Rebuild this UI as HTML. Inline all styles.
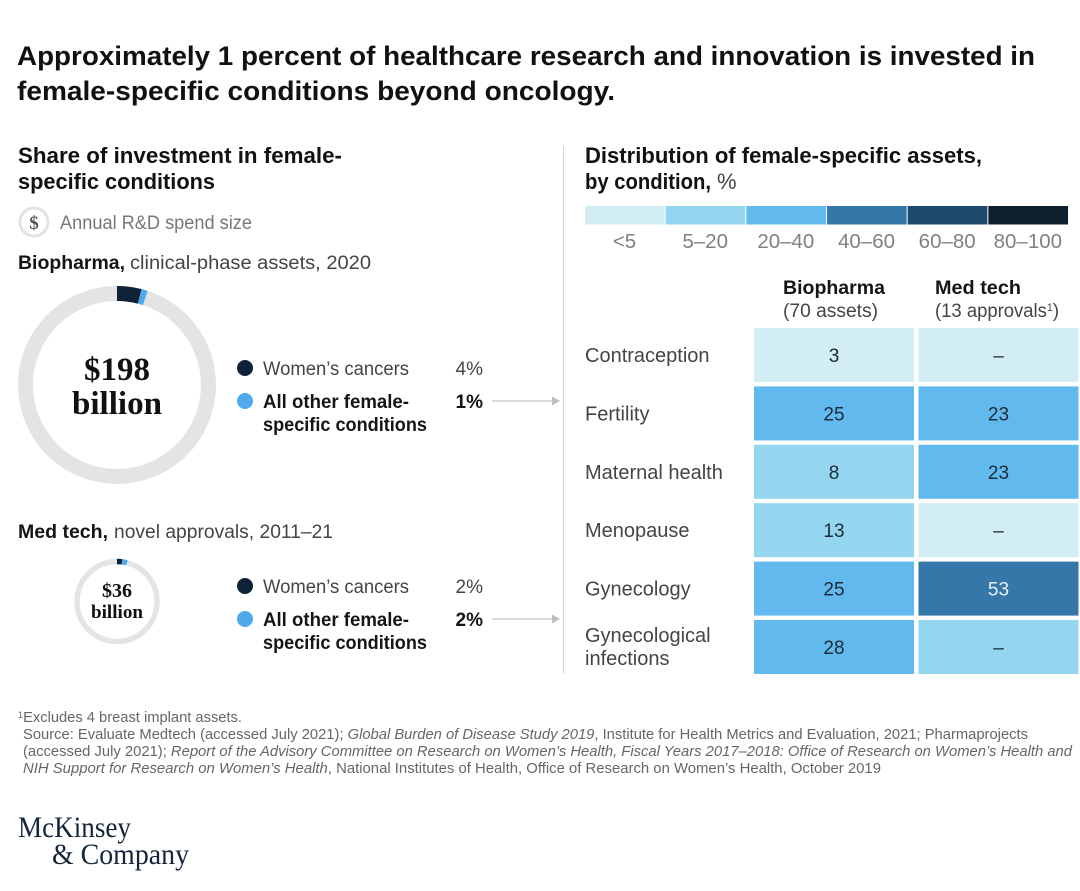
<!DOCTYPE html>
<html lang="en">
<head>
<meta charset="utf-8">
<title>Investment in female-specific conditions</title>
<style>
html,body{margin:0;padding:0;background:#fff;}
svg{display:block;font-family:"Liberation Sans",sans-serif;}
text{fill:#111;}
.h{font-weight:700;font-size:22px;}
.b{font-size:19px;fill:#444;}
.rl{font-size:20px;fill:#444;}
.sb{font-size:19px;font-weight:700;fill:#151515;}
.g{font-size:19px;fill:#777;}
.gs{font-size:20.500px;fill:#808080;}
.f{font-size:14.5px;fill:#666;}
.serif{font-family:"Liberation Serif",serif;}
</style>
</head>
<body>
<svg id="chart" width="1080" height="891" viewBox="0 0 1080 891" xmlns="http://www.w3.org/2000/svg">
<rect width="1080" height="891" fill="#fff"/>
<g>
<text x="17" y="65" font-size="27" font-weight="700" textLength="1018" lengthAdjust="spacingAndGlyphs">Approximately 1 percent of healthcare research and innovation is invested in</text>
<text x="17" y="100" font-size="27" font-weight="700" textLength="598" lengthAdjust="spacingAndGlyphs">female-specific conditions beyond oncology.</text>
</g>
<g>
<text class="h" x="18" y="163" textLength="324" lengthAdjust="spacingAndGlyphs">Share of investment in female-</text>
<text class="h" x="18" y="189" textLength="197" lengthAdjust="spacingAndGlyphs">specific conditions</text>
</g>
<g>
<circle cx="34" cy="222" r="14" fill="#fff" stroke="#e3e3e3" stroke-width="3"/>
<text x="34" y="229" text-anchor="middle" font-size="19" font-weight="700" class="serif" style="fill:#555">$</text>
<text class="g" x="60" y="229" textLength="192" lengthAdjust="spacingAndGlyphs">Annual R&amp;D spend size</text>
</g>
<g>
<text class="sb" x="18" y="269" textLength="107" lengthAdjust="spacingAndGlyphs">Biopharma,</text>
<text class="b" x="130" y="269" textLength="241" lengthAdjust="spacingAndGlyphs">clinical-phase assets, 2020</text>
</g>
<g id="donut-biopharma"></g>
<g>
<text class="serif" x="117" y="380" text-anchor="middle" font-size="33" font-weight="700">$198</text>
<text class="serif" x="72" y="414" font-size="33" font-weight="700" textLength="90" lengthAdjust="spacingAndGlyphs">billion</text>
</g>
<g>
<circle cx="245" cy="368" r="8" fill="#0e2337"/>
<text class="b" x="263" y="375" textLength="146" lengthAdjust="spacingAndGlyphs">Women’s cancers</text>
<text id="bio-cancer-share" class="b" x="483" y="375" text-anchor="end">4%</text>
<circle cx="245" cy="401" r="8" fill="#4faaed"/>
<text class="sb" x="263" y="408" textLength="146" lengthAdjust="spacingAndGlyphs">All other female-</text>
<text class="sb" x="263" y="431" textLength="164" lengthAdjust="spacingAndGlyphs">specific conditions</text>
<text id="bio-other-share" class="sb" x="483" y="408" text-anchor="end">1%</text>
</g>
<g>
<line x1="492" y1="401" x2="552" y2="401" stroke="#c4c4c4" stroke-width="1.3"/>
<polygon points="552,396.500 560,401 552,405.500" fill="#bdbdbd"/>
</g>
<g>
<text class="sb" x="18" y="538" textLength="90" lengthAdjust="spacingAndGlyphs">Med tech,</text>
<text class="b" x="114" y="538" textLength="219" lengthAdjust="spacingAndGlyphs">novel approvals, 2011–21</text>
</g>
<g id="donut-medtech"></g>
<g>
<text class="serif" x="117" y="597" text-anchor="middle" font-size="20" font-weight="700">$36</text>
<text class="serif" x="91" y="618" font-size="19" font-weight="700" textLength="52" lengthAdjust="spacingAndGlyphs">billion</text>
</g>
<g>
<circle cx="245" cy="586" r="8" fill="#0e2337"/>
<text class="b" x="263" y="593" textLength="146" lengthAdjust="spacingAndGlyphs">Women’s cancers</text>
<text id="med-cancer-share" class="b" x="483" y="593" text-anchor="end">2%</text>
<circle cx="245" cy="619" r="8" fill="#4faaed"/>
<text class="sb" x="263" y="626" textLength="146" lengthAdjust="spacingAndGlyphs">All other female-</text>
<text class="sb" x="263" y="649" textLength="164" lengthAdjust="spacingAndGlyphs">specific conditions</text>
<text id="med-other-share" class="sb" x="483" y="626" text-anchor="end">2%</text>
</g>
<g>
<line x1="492" y1="619" x2="552" y2="619" stroke="#c4c4c4" stroke-width="1.3"/>
<polygon points="552,614.500 560,619 552,623.500" fill="#bdbdbd"/>
</g>
<line x1="563.500" y1="146" x2="563.500" y2="674" stroke="#d4d4d4" stroke-width="1"/>
<g>
<text class="h" x="585" y="163" textLength="397" lengthAdjust="spacingAndGlyphs">Distribution of female-specific assets,</text>
<text class="h" x="585" y="189" textLength="126" lengthAdjust="spacingAndGlyphs">by condition,</text>
<text x="717" y="189" font-size="22" style="fill:#444">%</text>
</g>
<g id="color-scale"></g>
<g>
<text class="sb" x="783" y="294" textLength="102" lengthAdjust="spacingAndGlyphs">Biopharma</text>
<text class="b" x="783" y="317" textLength="95" lengthAdjust="spacingAndGlyphs">(70 assets)</text>
</g>
<g>
<text class="sb" x="935" y="294" textLength="86" lengthAdjust="spacingAndGlyphs">Med tech</text>
<text class="b" x="935" y="317" textLength="124" lengthAdjust="spacingAndGlyphs">(13 approvals<tspan font-size="11" dy="-6">1</tspan><tspan dy="6">)</tspan></text>
</g>
<g id="heatmap"></g>
<g>
<text class="f" x="18" y="722" textLength="224" lengthAdjust="spacingAndGlyphs"><tspan font-size="9" dy="-4">1</tspan><tspan dy="4">Excludes 4 breast implant assets.</tspan></text>
<text class="f" x="23" y="739" textLength="1005" lengthAdjust="spacingAndGlyphs">Source: Evaluate Medtech (accessed July 2021); <tspan font-style="italic">Global Burden of Disease Study 2019</tspan>, Institute for Health Metrics and Evaluation, 2021; Pharmaprojects</text>
<text class="f" x="23" y="756" textLength="1049" lengthAdjust="spacingAndGlyphs">(accessed July 2021); <tspan font-style="italic">Report of the Advisory Committee on Research on Women’s Health, Fiscal Years 2017–2018: Office of Research on Women’s Health and</tspan></text>
<text class="f" x="23" y="773" textLength="858" lengthAdjust="spacingAndGlyphs"><tspan font-style="italic">NIH Support for Research on Women’s Health</tspan>, National Institutes of Health, Office of Research on Women’s Health, October 2019</text>
</g>
<g>
<text class="serif" x="18" y="837" font-size="30" textLength="113" lengthAdjust="spacingAndGlyphs" style="fill:#14263a">McKinsey</text>
<text class="serif" x="52" y="864" font-size="30" textLength="137" lengthAdjust="spacingAndGlyphs" style="fill:#14263a">&amp; Company</text>
</g>
</svg>
<script>
const bioDonutShares = [4, 1];
const medDonutShares = [2, 2];
const conditions = ['Contraception', 'Fertility', 'Maternal health', 'Menopause', 'Gynecology', 'Gynecological infections'];
const biopharmaValues = [3, 25, 8, 13, 25, 28];
const medtechValues = [null, 23, 23, null, 53, null];
const medtechMissingBands = [0, null, null, 0, null, 1];
const bandLabels = ['<5', '5–20', '20–40', '40–60', '60–80', '80–100'];
const bandLimits = [5, 20, 40, 60, 80, 100];
const bandColors = ['#d3edf5', '#94d5f0', '#62b9ee', '#3577a9', '#1f4a70', '#0e1f2f'];
const sliceColors = ['#0e2337', '#4faaed'];

const NS = 'http://www.w3.org/2000/svg';
function el(tag, attrs, parent) {
  const n = document.createElementNS(NS, tag);
  for (const k in attrs) n.setAttribute(k, attrs[k]);
  parent.appendChild(n);
  return n;
}
function arcPath(cx, cy, r, a, b) {
  const p = function (pct) {
    const t = pct / 100 * 2 * Math.PI;
    return (cx + r * Math.sin(t)).toFixed(2) + ' ' + (cy - r * Math.cos(t)).toFixed(2);
  };
  return 'M' + p(a) + ' A' + r + ' ' + r + ' 0 ' + (b - a > 50 ? 1 : 0) + ' 1 ' + p(b);
}
function drawDonut(group, shares, cx, cy, r, width) {
  const ring = el('circle', {cx: cx, cy: cy, r: r, fill: 'none', stroke: '#e4e4e4', 'stroke-width': width}, group);
  
  
  let start = 0;
  shares.forEach(function (v, i) {
    const s = el('path', {d: arcPath(cx, cy, r, start, start + v), fill: 'none', stroke: sliceColors[i], 'stroke-width': width}, group);
    
    
    start += v;
  });
}
drawDonut(document.getElementById('donut-biopharma'), bioDonutShares, 117, 385, 91.5, 15);
drawDonut(document.getElementById('donut-medtech'), medDonutShares, 117, 601.5, 40, 5.5);
document.getElementById('bio-cancer-share').textContent = bioDonutShares[0] + '%';
document.getElementById('bio-other-share').textContent = bioDonutShares[1] + '%';
document.getElementById('med-cancer-share').textContent = medDonutShares[0] + '%';
document.getElementById('med-other-share').textContent = medDonutShares[1] + '%';

const scaleGroup = document.getElementById('color-scale');
const scaleX = function (i) { return 585 + i * 80.67; };
bandLabels.forEach(function (label, i) {
  const r = el('rect', {x: scaleX(i), y: 206, width: 79.67, height: 18.5, fill: bandColors[i]}, scaleGroup);
  
  
  const t = el('text', {x: scaleX(i) + 39.5, y: 248, 'text-anchor': 'middle', 'class': 'gs'}, scaleGroup);
  
  
  t.textContent = label;
});

function bandOf(v) {
  for (let i = 0; i < bandLimits.length; i++) if (v < bandLimits[i]) return i;
  return bandLimits.length - 1;
}
const heat = document.getElementById('heatmap');
const rowY = function (i) { return 328 + i * 58.4; };
const colX = function (j) { return 754 + j * 164.5; };
const cellW = 160, cellH = 54;
function drawCell(col, row, value, band) {
  const r = el('rect', {x: colX(col), y: rowY(row), width: cellW, height: cellH, fill: bandColors[band]}, heat);
  
  
  const t = el('text', {x: colX(col) + cellW / 2, y: rowY(row) + 34, 'text-anchor': 'middle', 'font-size': 19}, heat);
  
  
  t.style.fill = band >= 3 ? '#e8f1f7' : '#1c2b38';
  t.textContent = value === null ? '–' : value;
}
conditions.forEach(function (name, i) {
  const words = name === 'Gynecological infections' ? ['Gynecological', 'infections'] : [name];
  words.forEach(function (w, k) {
    const y = rowY(i) + 34 + (words.length > 1 ? (k === 0 ? -12 : 11) : 0);
    const t = el('text', {x: 585, y: y, 'class': 'rl'}, heat);
    
    
    t.textContent = w;
  });
  drawCell(0, i, biopharmaValues[i], bandOf(biopharmaValues[i]));
  const m = medtechValues[i];
  drawCell(1, i, m, m === null ? medtechMissingBands[i] : bandOf(m));
});
</script>
</body>
</html>
